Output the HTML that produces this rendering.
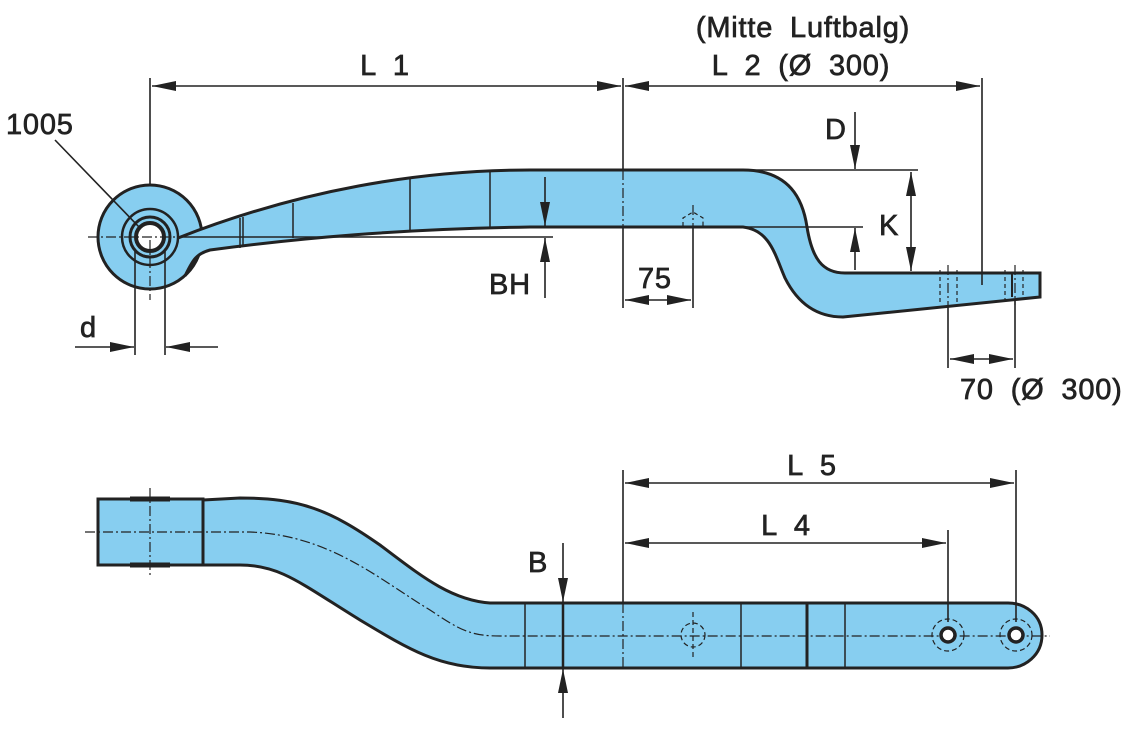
<!DOCTYPE html>
<html><head><meta charset="utf-8"><style>
html,body{margin:0;padding:0;background:#fff;}
svg{display:block;}
text{font-family:"Liberation Sans",sans-serif;font-size:29px;fill:#222;stroke:#222;stroke-width:0.7;letter-spacing:0.8px;}
</style></head><body>
<svg width="1138" height="731" viewBox="0 0 1138 731" xmlns="http://www.w3.org/2000/svg">
<defs>
<marker id="a" viewBox="0 0 24 10" refX="24" refY="5" markerWidth="24" markerHeight="10" markerUnits="userSpaceOnUse" orient="auto-start-reverse"><path d="M0,0 L24,5 L0,10 Z" fill="#222"/></marker>
</defs>
<g stroke="#222" fill="none">
<!-- ===== TOP VIEW ===== -->
<circle cx="150" cy="237" r="52" fill="#87CEF0" stroke-width="3"/>
<path d="M178,238 C300,190 420,170 530,170 L743,170 C790,170 803,200 807,227 C812,258 822,273 845,273 L1040,273 L1040,297 L843,317 C815,317 797,302 785,278 C775,255 770,230 743,227 L530,227 C400,229 300,238 210,250 C195,254 192,262 185,276" fill="#87CEF0" stroke-width="3"/>
<circle cx="150" cy="237" r="28" fill="#87CEF0" stroke-width="2.5"/>
<circle cx="150" cy="237" r="20" fill="#87CEF0" stroke-width="3"/>
<circle cx="150" cy="237" r="14" fill="#fff" stroke-width="4"/>
<g stroke-width="1.5">
<line x1="240" y1="218" x2="240" y2="248"/><line x1="243" y1="217" x2="243" y2="247"/>
<line x1="293" y1="203" x2="293" y2="238"/>
<line x1="410" y1="178" x2="410" y2="231"/>
<line x1="490" y1="170" x2="490" y2="228"/>
</g>
<g stroke-width="1.2" stroke-dasharray="4,3">
<line x1="940" y1="270" x2="940" y2="305"/><line x1="957" y1="270" x2="957" y2="305"/>
<line x1="1005" y1="270" x2="1005" y2="300"/><line x1="1023" y1="270" x2="1023" y2="300"/>
<path d="M683,226 L683,218 L693,212 L703,218 L703,226"/>
</g>
<line x1="1012" y1="273" x2="1012" y2="297" stroke-width="2"/>
<g stroke-width="1.2" stroke-dasharray="10,3,2,3">
<line x1="88" y1="237" x2="178" y2="237"/>
<line x1="150" y1="240" x2="150" y2="300"/>
<line x1="623" y1="170" x2="623" y2="227"/>
<line x1="693" y1="205" x2="693" y2="226"/>
<line x1="948" y1="265" x2="948" y2="305"/>
<line x1="1015" y1="265" x2="1015" y2="305"/>
</g>
<g stroke-width="1.6">
<line x1="150" y1="78" x2="150" y2="186"/>
<line x1="623" y1="78" x2="623" y2="170"/><line x1="623" y1="227" x2="623" y2="308"/>
<line x1="982" y1="78" x2="982" y2="285"/>
<line x1="152" y1="86" x2="621" y2="86" marker-start="url(#a)" marker-end="url(#a)"/>
<line x1="625" y1="86" x2="980" y2="86" marker-start="url(#a)" marker-end="url(#a)"/>
<line x1="55" y1="140" x2="140" y2="228"/>
<line x1="135" y1="250" x2="135" y2="355"/><line x1="165" y1="250" x2="165" y2="355"/>
<line x1="75" y1="347" x2="134" y2="347" marker-end="url(#a)"/>
<line x1="218" y1="347" x2="166" y2="347" marker-end="url(#a)"/>
<line x1="178" y1="237" x2="553" y2="237"/>
<line x1="545" y1="177" x2="545" y2="226" marker-end="url(#a)"/>
<line x1="545" y1="298" x2="545" y2="238" marker-end="url(#a)"/>
<line x1="693" y1="226" x2="693" y2="308"/>
<line x1="625" y1="300" x2="691" y2="300" marker-start="url(#a)" marker-end="url(#a)"/>
<line x1="743" y1="170" x2="918" y2="170"/>
<line x1="743" y1="227" x2="863" y2="227"/>
<line x1="855" y1="112" x2="855" y2="169" marker-end="url(#a)"/>
<line x1="855" y1="270" x2="855" y2="228" marker-end="url(#a)"/>
<line x1="911" y1="172" x2="911" y2="271" marker-start="url(#a)" marker-end="url(#a)"/>
<line x1="948" y1="305" x2="948" y2="368"/><line x1="1015" y1="300" x2="1015" y2="368"/>
<line x1="950" y1="359" x2="1013" y2="359" marker-start="url(#a)" marker-end="url(#a)"/>
</g>
<!-- ===== BOTTOM VIEW ===== -->
<path d="M203,500 L240,498 C300,498 330,510 380,545 C420,575 450,600 490,603 L1008,603 C1025,603 1042,615 1042,635 C1042,655 1025,668 1008,668 L490,668 C440,668 410,650 360,620 C300,583 280,565 240,565 L203,565 Z" fill="#87CEF0" stroke-width="3"/>
<rect x="98" y="499" width="105" height="66" fill="#87CEF0" stroke-width="3"/>
<line x1="130" y1="499" x2="170" y2="499" stroke-width="5"/>
<line x1="130" y1="565" x2="170" y2="565" stroke-width="5"/>
<g stroke-width="1.5">
<line x1="525" y1="603" x2="525" y2="668"/>
<line x1="741" y1="603" x2="741" y2="668"/>
<line x1="845" y1="603" x2="845" y2="668"/>
</g>
<line x1="807" y1="603" x2="807" y2="668" stroke-width="3"/>
<g stroke-width="1.2" stroke-dasharray="10,3,2,3">
<path d="M85,532 L250,532 C330,535 380,580 430,610 C460,630 470,636 500,636 L1050,636"/>
<line x1="150" y1="488" x2="150" y2="578"/>
<line x1="623" y1="603" x2="623" y2="668"/>
</g>
<g stroke-width="1.2" stroke-dasharray="5,3">
<circle cx="693" cy="635" r="12"/>
<line x1="693" y1="612" x2="693" y2="660"/>
<circle cx="948" cy="635" r="16"/>
<circle cx="1016" cy="635" r="16"/>
</g>
<circle cx="948" cy="635" r="7" fill="#fff" stroke-width="3.5"/>
<circle cx="1016" cy="635" r="7" fill="#fff" stroke-width="3.5"/>
<g stroke-width="1.6">
<line x1="623" y1="470" x2="623" y2="603"/>
<line x1="948" y1="530" x2="948" y2="622"/>
<line x1="1016" y1="470" x2="1016" y2="622"/>
<line x1="625" y1="483" x2="1014" y2="483" marker-start="url(#a)" marker-end="url(#a)"/>
<line x1="625" y1="543" x2="946" y2="543" marker-start="url(#a)" marker-end="url(#a)"/>
<line x1="563" y1="543" x2="563" y2="602" marker-end="url(#a)"/>
<line x1="563" y1="603" x2="563" y2="668" stroke-width="2.5"/>
<line x1="563" y1="718" x2="563" y2="669" marker-end="url(#a)"/>
</g>
</g>
<g>
<text x="803" y="37" text-anchor="middle" word-spacing="8">(Mitte Luftbalg)</text>
<text x="801" y="75" text-anchor="middle" word-spacing="8">L 2 (Ø 300)</text>
<text x="385" y="75" text-anchor="middle" word-spacing="8">L 1</text>
<text x="6" y="134">1005</text>
<text x="80" y="337">d</text>
<text x="489" y="294">BH</text>
<text x="638" y="288">75</text>
<text x="825" y="139">D</text>
<text x="879" y="235">K</text>
<text x="960" y="399" word-spacing="8">70 (Ø 300)</text>
<text x="812" y="475" text-anchor="middle" word-spacing="8">L 5</text>
<text x="786" y="535" text-anchor="middle" word-spacing="8">L 4</text>
<text x="528" y="572">B</text>
</g>
</svg>
</body></html>
